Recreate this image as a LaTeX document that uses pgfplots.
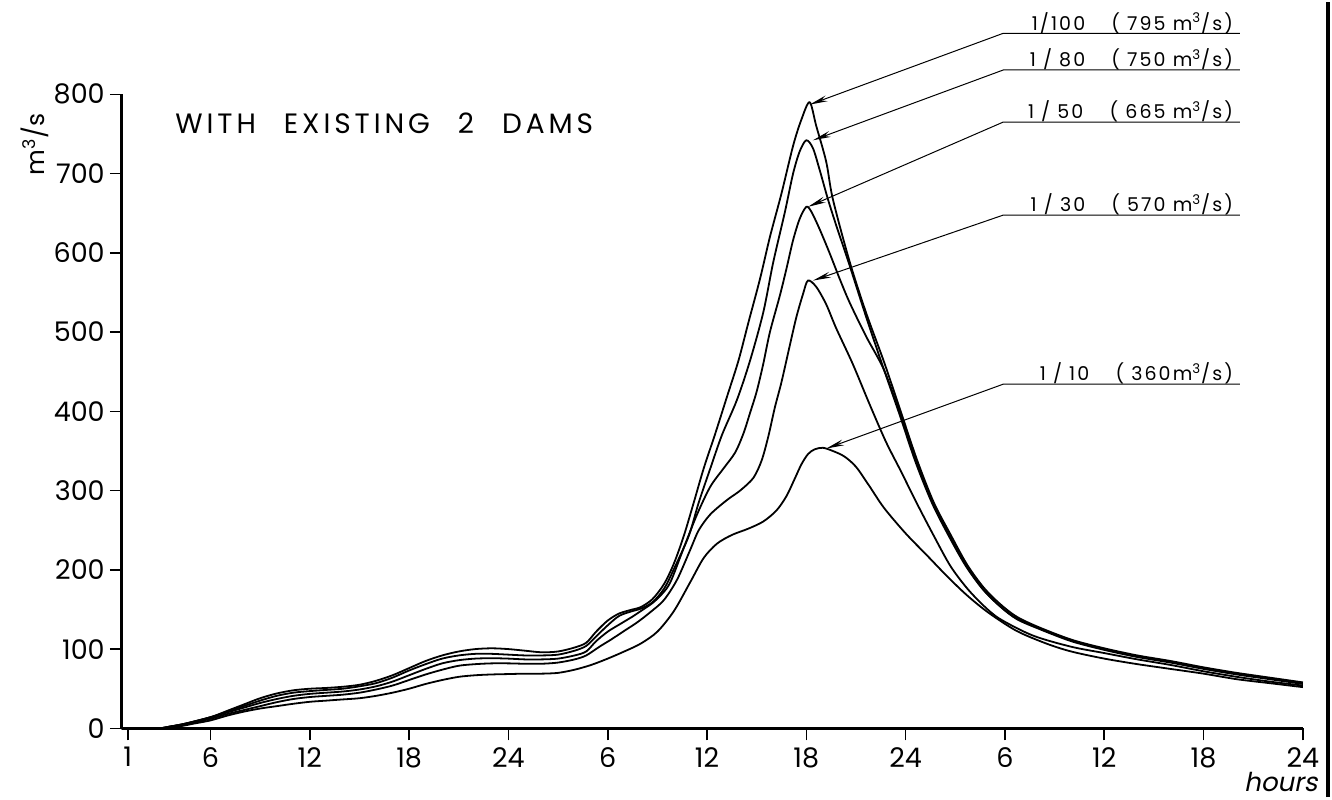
\documentclass[border=0pt]{standalone}
\usepackage{fontspec}
\setmainfont{Poppins}
\newfontfamily\slfont[FakeSlant=0.2]{Poppins}
\newfontfamily\lblfam[LetterSpace=11]{Poppins}
\newfontfamily\ttlfam[LetterSpace=14]{Poppins}
\usepackage{pgfplots}
\pgfplotsset{compat=1.18}
\usetikzlibrary{arrows.meta}
\begin{document}
\begin{tikzpicture}
\begin{axis}[
  scale only axis, width=590.5pt, height=317pt,
  xmin=0.64, xmax=72, ymin=0, ymax=800,
  axis lines=left,
  axis line style={-, line width=1.5pt},
  xtick={1,6,12,18,24,30,36,42,48,54,60,66,72},
  xticklabels={1,6,12,18,24,6,12,18,24,6,12,18,24},
  ytick={0,100,200,300,400,500,600,700,800},
  tick align=outside, major tick length=6pt,
  tick style={line width=0.8pt, black},
  /pgf/number format/assume math mode=true,
  ticklabel style={font=\fontsize{13.5}{15}\selectfont},
  yticklabel style={xshift=1pt},
  clip=false,
  c/.style={black, line width=0.9pt, smooth, no markers},
]
% 1/100
\addplot[c] table {
0.64 0
2.8 0
3.5 2
4.5 6
6 14
7 22
8 30
9 38
10 44
11 48
12 50
13 51
14 52.5
15 55
16 60
17 67
18 76
19 85
20 92
21 97
22 100
23 101
24 100
25 98
26 96
27 97
28 102
28.7 108
29.3 122
30 136
30.7 145
31.5 150
32 153
32.7 163
33.4 182
34 208
34.6 243
35.2 285
35.8 328
36.5 372
37.2 418
37.9 464
38.5 512
39.2 567
39.8 620
40.5 675
41.2 735
41.7 768
42.2 790
42.6 760
43.2 715
43.6 668
44.6 590
45.6 525
46.7 462
47.7 400
48.7 338
49.7 285
50.7 245
51.7 207
52.7 178
53.7 157
54.7 141
56 128
58 112
60 101
62 92
64 85
66 77
68 70
70 64
72 58
};
% 1/80
\addplot[c] table {
0.64 0
2.8 0
3.5 2
4.5 6
6 14
7 21
8 28
9 35
10 41
11 45
12 47
13 48.5
14 50
15 53
16 57
17 64
18 73
19 81
20 88
21 92
22 94
23 94
24 93
25 92
26 92
27 93
28 98
28.7 104
29.3 116
30 130
30.7 142
31.5 148
32 151
32.7 159
33.4 176
34 201
34.9 243
35.5 285
36.2 328
36.9 370
37.8 414
38.6 464
39.4 525
40 588
40.7 651
41.2 700
41.6 728
42.0 742
42.4 732
42.8 705
43.3 668
43.8 635
44.6 585
45.6 520
46.6 458
47.6 398
48.6 336
49.6 284
50.6 243
51.6 206
52.6 177
53.6 156
54.6 140
56 127
58 111
60 100
62 91
64 84
66 76
68 69
70 63
72 57
};
% 1/50
\addplot[c] table {
0.64 0
2.8 0
3.5 2
4.5 6
6 14
7 20
8 26
9 32
10 37
11 41
12 43.5
13 45
14 46.5
15 49
16 53
17 59
18 67
19 75
20 82
21 86
22 88
23 88.5
24 88
25 87
26 87
27 88
28 92
28.7 97
29.3 110
30 122
30.7 131
31.5 141
32 148
32.7 158
33.3 170
33.8 185
34.6 228
35.4 270
36.2 305
37 328
37.7 348
38.2 372
38.6 398
39.0 425
39.4 460
39.8 500
40.4 546
40.8 580
41.2 616
41.6 643
42.0 658
42.3 652
42.8 630
43.4 600
44.0 568
44.6 538
45.6 495
46.7 452
47.7 395
48.7 333
49.7 282
50.7 241
51.7 204
52.7 175
53.7 154
54.7 138
56 126
58 110
60 99
62 90
64 83
66 75
68 68
70 62
72 56
};
% 1/30
\addplot[c] table {
0.64 0
2.8 0
3.5 2
4.5 5
6 12
7 18
8 23
9 28
10 33
11 37
12 39.5
13 41
14 42.5
15 45
16 49
17 54
18 61
19 68
20 74
21 79
22 81
23 82
24 82
25 81.5
26 81.5
27 83
28 87
28.7 92
29.5 103
30.2 112
31 123
31.8 134
32.6 147
33.4 162
34.2 188
35 226
35.5 250
36.2 270
37.2 288
38.0 300
38.8 316
39.3 338
39.7 368
40.1 405
40.5 437
41.0 483
41.4 519
41.8 548
42.1 565
42.6 557
43.2 535
43.8 505
44.8 460
45.8 410
46.8 362
47.7 325
48.7 283
49.7 243
50.7 205
51.7 177
52.7 155
53.7 138
55.7 117
58 103
60 95
62 87
64 80
66 72
68 65
70 59
72 54
};
% 1/10
\addplot[c] table {
0.64 0
3.0 0
4 2
5 6
6 10
7 16
8 21
9 25
10 28
11 31
12 33.5
13 35
14 36.5
15 38
16 41
17 45
18 50
19 56
20 61
21 65
22 67
23 68
24 68.5
25 69
26 69
27 70
28 74
29 80
30 88
31 97
32 107
33 122
34 148
35 185
35.8 215
36.6 233
37.5 244
38.5 252
39.4 261
40.2 275
40.8 293
41.3 315
41.7 333
42.1 346
42.5 352
43.0 354
43.6 350
44.3 343
45.0 330
45.8 306
46.7 278
48 246
49.3 218
50.5 192
51.7 168
53 146
54.7 123
56.5 107
58 97
60 88
62 81
64 75
66 69
68 62
70 57
72 52
};
% leaders and labels
\tikzset{lead/.style={line width=0.5pt, {Stealth[length=9pt,width=3pt]}-}}
\def\lblfont{\fontsize{9.5}{11}\lblfam}
\draw[lead] (axis cs:42.2,787) -- (axis cs:53.9,877) -- (axis cs:68.2,877);
\node[anchor=base east, inner sep=0pt, font=\lblfont] at (axis cs:67.8,881) {1/100\quad\ ( 795 m\textsuperscript{3}/s)};
\draw[lead] (axis cs:42.4,742) -- (axis cs:53.9,830.7) -- (axis cs:68.2,830.7);
\node[anchor=base east, inner sep=0pt, font=\lblfont] at (axis cs:67.8,834.7) {1 / 80\quad\ ( 750 m\textsuperscript{3}/s)};
\draw[lead] (axis cs:42.1,658) -- (axis cs:53.9,765) -- (axis cs:68.2,765);
\node[anchor=base east, inner sep=0pt, font=\lblfont] at (axis cs:67.8,769) {1 / 50\quad\ ( 665 m\textsuperscript{3}/s)};
\draw[lead] (axis cs:42.4,565) -- (axis cs:53.9,647.6) -- (axis cs:68.2,647.6);
\node[anchor=base east, inner sep=0pt, font=\lblfont] at (axis cs:67.8,651.6) {1 / 30\quad\ ( 570 m\textsuperscript{3}/s)};
\draw[lead] (axis cs:43.2,353) -- (axis cs:53.9,434.3) -- (axis cs:68.2,434.3);
\node[anchor=base east, inner sep=0pt, font=\lblfont] at (axis cs:67.8,438.3) {1 / 10\quad\ ( 360m\textsuperscript{3}/s)};
% texts
\node[anchor=base west, inner sep=0pt, font=\fontsize{14}{16}\ttlfam] at (axis cs:3.86,750) {WITH\quad EXISTING\quad 2\quad DAMS};
\node[rotate=90, inner sep=0pt, font=\fontsize{12.5}{14}\selectfont] at (axis cs:-4.6,737) {m\textsuperscript{3}/s};
\node[anchor=base east, inner sep=0pt, font=\fontsize{13}{14}\slfont] at (axis cs:72.9,-80) {hours};
% page border line
\draw[line width=2pt] (axis cs:73.52,-86.69) -- (axis cs:73.52,916.47);
\path (axis cs:-6.716,-86.69) rectangle (axis cs:73.76,916.47);
\end{axis}
\end{tikzpicture}
\end{document}
